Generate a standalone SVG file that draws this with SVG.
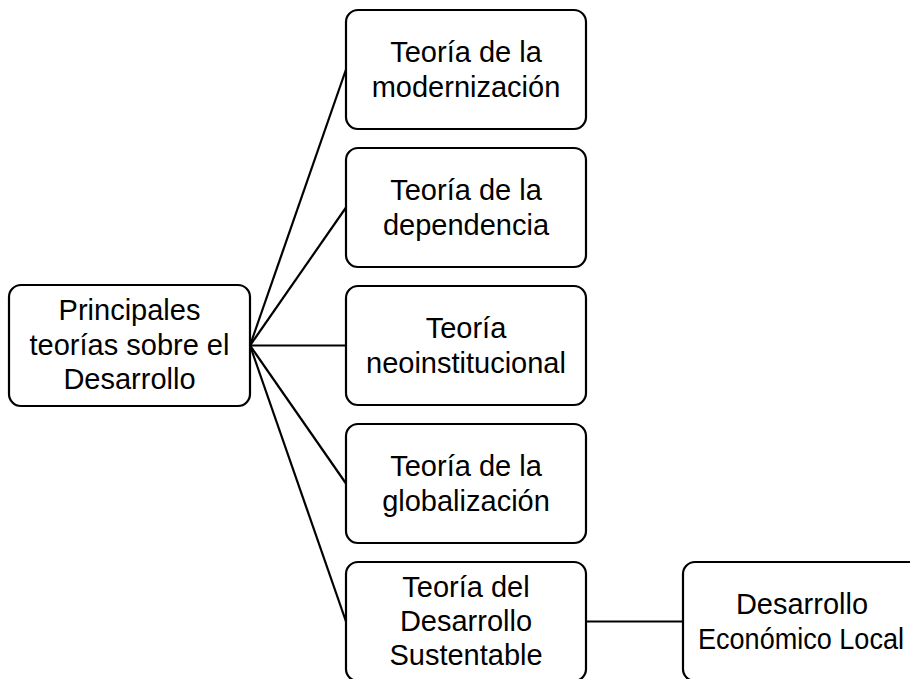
<svg xmlns="http://www.w3.org/2000/svg" width="910" height="679" viewBox="0 0 910 679">
<style>
.box{fill:#fff;stroke:#000;stroke-width:2.2}
.t{font-family:"Liberation Sans",Arial,sans-serif;font-size:29px;fill:#000;text-anchor:middle}
.c{stroke:#000;stroke-width:2.2;fill:none}
</style>
<rect width="910" height="679" fill="#fff"/>
<g id="connectors">
<line class="c" x1="250" y1="345.5" x2="346" y2="69.5"/>
<line class="c" x1="250" y1="345.5" x2="346" y2="207.5"/>
<line class="c" x1="250" y1="345.5" x2="346" y2="345.5"/>
<line class="c" x1="250" y1="345.5" x2="346" y2="483.5"/>
<line class="c" x1="250" y1="345.5" x2="346" y2="621.5"/>
<line class="c" x1="586" y1="621.5" x2="683" y2="621.5"/>
</g>
<g id="root">
<rect class="box" x="9" y="285" width="241" height="121" rx="12"/>
<text class="t" x="129.5" y="320">Principales</text>
<text class="t" x="129.5" y="355">teorías sobre el</text>
<text class="t" x="129.5" y="389">Desarrollo</text>
</g>
<g id="modernizacion">
<rect class="box" x="346" y="10" width="240" height="119" rx="12"/>
<text class="t" x="466" y="62">Teoría de la</text>
<text class="t" x="466" y="97">modernización</text>
</g>
<g id="dependencia">
<rect class="box" x="346" y="148" width="240" height="119" rx="12"/>
<text class="t" x="466" y="200">Teoría de la</text>
<text class="t" x="466" y="235">dependencia</text>
</g>
<g id="neoinstitucional">
<rect class="box" x="346" y="286" width="240" height="119" rx="12"/>
<text class="t" x="466" y="338">Teoría</text>
<text class="t" x="466" y="373">neoinstitucional</text>
</g>
<g id="globalizacion">
<rect class="box" x="346" y="424" width="240" height="119" rx="12"/>
<text class="t" x="466" y="476">Teoría de la</text>
<text class="t" x="466" y="511">globalización</text>
</g>
<g id="sustentable">
<rect class="box" x="346" y="562" width="240" height="119" rx="12"/>
<text class="t" x="466" y="597">Teoría del</text>
<text class="t" x="466" y="631">Desarrollo</text>
<text class="t" x="466" y="665">Sustentable</text>
</g>
<g id="del">
<rect class="box" x="683" y="562" width="240" height="119" rx="12"/>
<text class="t" x="802" y="614">Desarrollo</text>
<text class="t" x="801" y="649" textLength="206" lengthAdjust="spacingAndGlyphs">Económico Local</text>
</g>
</svg>
